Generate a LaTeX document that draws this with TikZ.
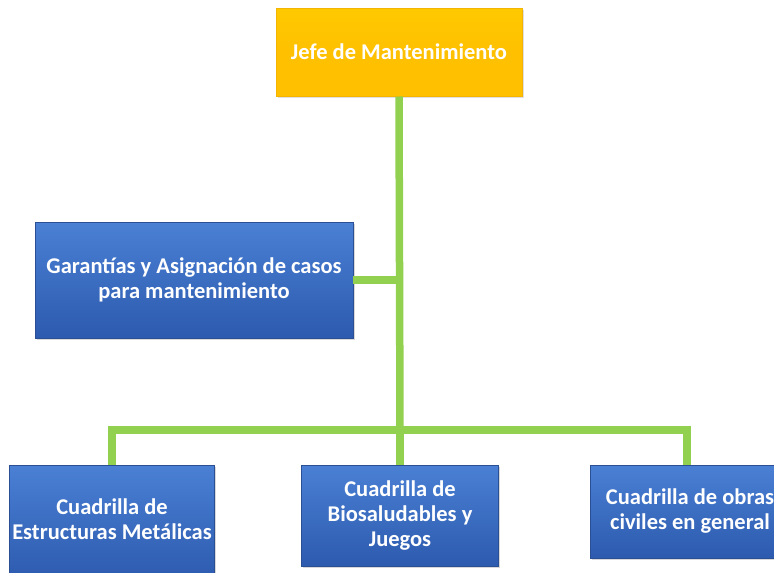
\documentclass[tikz,border=0pt]{standalone}
\usepackage{fontspec}
\setmainfont{Carlito}
\usetikzlibrary{shadows}
\definecolor{gold}{HTML}{FFC000}
\definecolor{goldedge}{HTML}{F5B400}
\definecolor{bluetop}{HTML}{4A80D4}
\definecolor{bluebot}{HTML}{2C5AAE}
\definecolor{blueedge}{HTML}{2A4F95}
\definecolor{conngreen}{HTML}{92D050}
\tikzset{
  lbl/.style={font=\bfseries\fontsize{22.5}{25}\selectfont, text=white, align=center, inner sep=0pt},
  boss/.style={lbl, draw=goldedge, line width=1pt, top color=gold!85!yellow, bottom color=gold,
    middle color=gold,
    drop shadow={shadow xshift=1.5pt, shadow yshift=-1.5pt, opacity=0.25}},
  unit/.style={lbl, draw=blueedge, line width=0.8pt, top color=bluetop, bottom color=bluebot,
    drop shadow={shadow xshift=1.5pt, shadow yshift=-1.5pt, opacity=0.3}},
  conn/.style={draw=conngreen, line width=7.5pt, line cap=butt, line join=miter}
}
\begin{document}
\begin{tikzpicture}[x=1pt,y=-1pt]
\useasboundingbox (0,0) rectangle (774,573);
\clip (0,0) rectangle (774,573);
\fill[white] (0,0) rectangle (774,573);
\coordinate (j) at (400,430);
\node[boss, minimum width=246pt, minimum height=88pt] (top) at (399,52) {Jefe de Mantenimiento};
\node[unit, minimum width=318pt, minimum height=116pt] (mid) at (194,280) {Garantías y Asignación de casos\\para mantenimiento};
\node[unit, minimum width=205pt, minimum height=116pt, anchor=north] (b1) at (112,465) {};
\node[unit, minimum width=197pt, minimum height=101pt, anchor=north] (b2) at (400,465) {Cuadrilla de\\Biosaludables y\\Juegos};
\node[unit, minimum width=194pt, minimum height=93pt, anchor=north] (b3) at (687,465) {};
\node[lbl] (b1t) at (112,519) {Cuadrilla de\\Estructuras Metálicas};
\node[lbl] (b3t) at (690,511) {Cuadrilla de obras\\civiles en general};
\draw[conn] (top.south) -- (j);
\draw[conn] (mid.east) -- (mid.east -| j);
\draw[conn] (b1.north) |- (j) -| (b3.north);
\draw[conn] (j) -- (b2.north);
\end{tikzpicture}
\end{document}
